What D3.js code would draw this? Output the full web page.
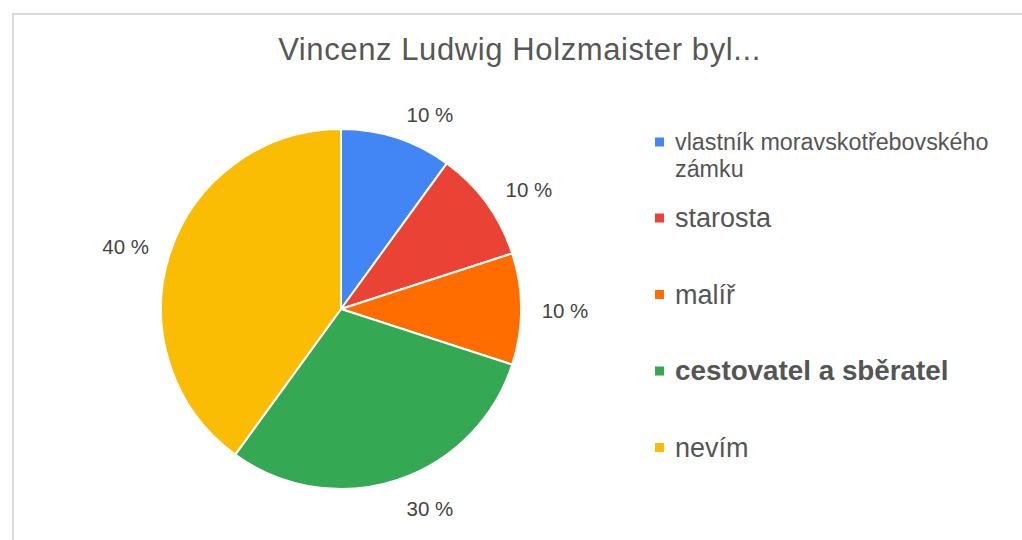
<!DOCTYPE html>
<html><head><meta charset="utf-8">
<script src="https://cdn.jsdelivr.net/npm/d3@7"></script>
<style>html,body{margin:0;padding:0;background:#fff;overflow:hidden}</style>
</head><body>
<svg id="c" width="1022" height="540"></svg>
<script>
const title = "Vincenz Ludwig Holzmaister byl...";
const categories = ["vlastník moravskotřebovského zámku", "starosta", "malíř", "cestovatel a sběratel", "nevím"];
const legendLines = [["vlastník moravskotřebovského", "zámku"], ["starosta"], ["malíř"], ["cestovatel a sběratel"], ["nevím"]];
const values = [10, 10, 10, 30, 40];
const colors = ["#4285F4", "#EA4335", "#FF6D01", "#34A853", "#FBBC04"];
const boldItem = "cestovatel a sběratel";

const svg = d3.select("#c");
const font = "'Liberation Sans', Arial, sans-serif";

svg.append("rect").attr("x", 13).attr("y", 14).attr("width", 1100).attr("height", 600)
  .attr("fill", "#fff").attr("stroke", "#dadada").attr("stroke-width", 2);

svg.append("text").attr("x", 519.5).attr("y", 60).attr("text-anchor", "middle")
  .attr("font-family", font).attr("font-size", 31).attr("letter-spacing", 0.6)
  .attr("fill", "#575757").text(title);

const cx = 341, cy = 309, r = 180;
const total = d3.sum(values);
const pie = d3.pie().sort(null).value(d => d)(values);
const arc = d3.arc().innerRadius(0).outerRadius(r);
const color = d3.scaleOrdinal().domain(categories).range(colors);

const g = svg.append("g").attr("transform", `translate(${cx},${cy})`);
g.selectAll("path").data(pie).join("path")
  .attr("d", arc).attr("fill", (d, i) => color(categories[i]))
  .attr("stroke", "#fff").attr("stroke-width", 2).attr("stroke-linejoin", "round");

const fmt = d => Math.round(d / total * 100) + " %";
const lw = 46, lh = 15, gap = 21;
g.selectAll("text.lbl").data(pie).join("text").attr("class", "lbl")
  .attr("font-family", font).attr("font-size", 20.5).attr("fill", "#444")
  .attr("text-anchor", "middle")
  .each(function(d) {
    const a = (d.startAngle + d.endAngle) / 2;
    const s = Math.sin(a), c = Math.cos(a);
    const px = (r + gap) * s, py = -(r + gap) * c;
    const dx = Math.abs(s) > 0.1 ? Math.sign(s) * (lw / 2 + 4 * Math.abs(c)) : 0;
    const tx = px + dx, ty = py - c * lh / 2 + 2 * Math.max(0, c) ;
    d3.select(this).attr("x", tx).attr("y", ty + 9).text(fmt(d.data));
  });

const legendY = d3.scalePoint().domain(categories.slice(1)).range([218, 447.5]);
const leg = svg.append("g");
categories.forEach((cat, i) => {
  const yc = i === 0 ? 142 : legendY(cat);
  const fs = i === 0 ? 23.3 : (cat === boldItem ? 27.8 : 27);
  leg.append("rect").attr("x", 655).attr("y", yc - 4.5).attr("width", 9).attr("height", 9)
    .attr("fill", color(cat));
  const t = leg.append("text").attr("font-family", font).attr("font-size", fs)
    .attr("fill", "#555").attr("font-weight", cat === boldItem ? "bold" : "normal");
  legendLines[i].forEach((ln, j) => {
    t.append("tspan").attr("x", 675).attr("y", yc + (i === 0 ? 8 : 9) + j * 26.5).text(ln);
  });
});
</script>
</body></html>
